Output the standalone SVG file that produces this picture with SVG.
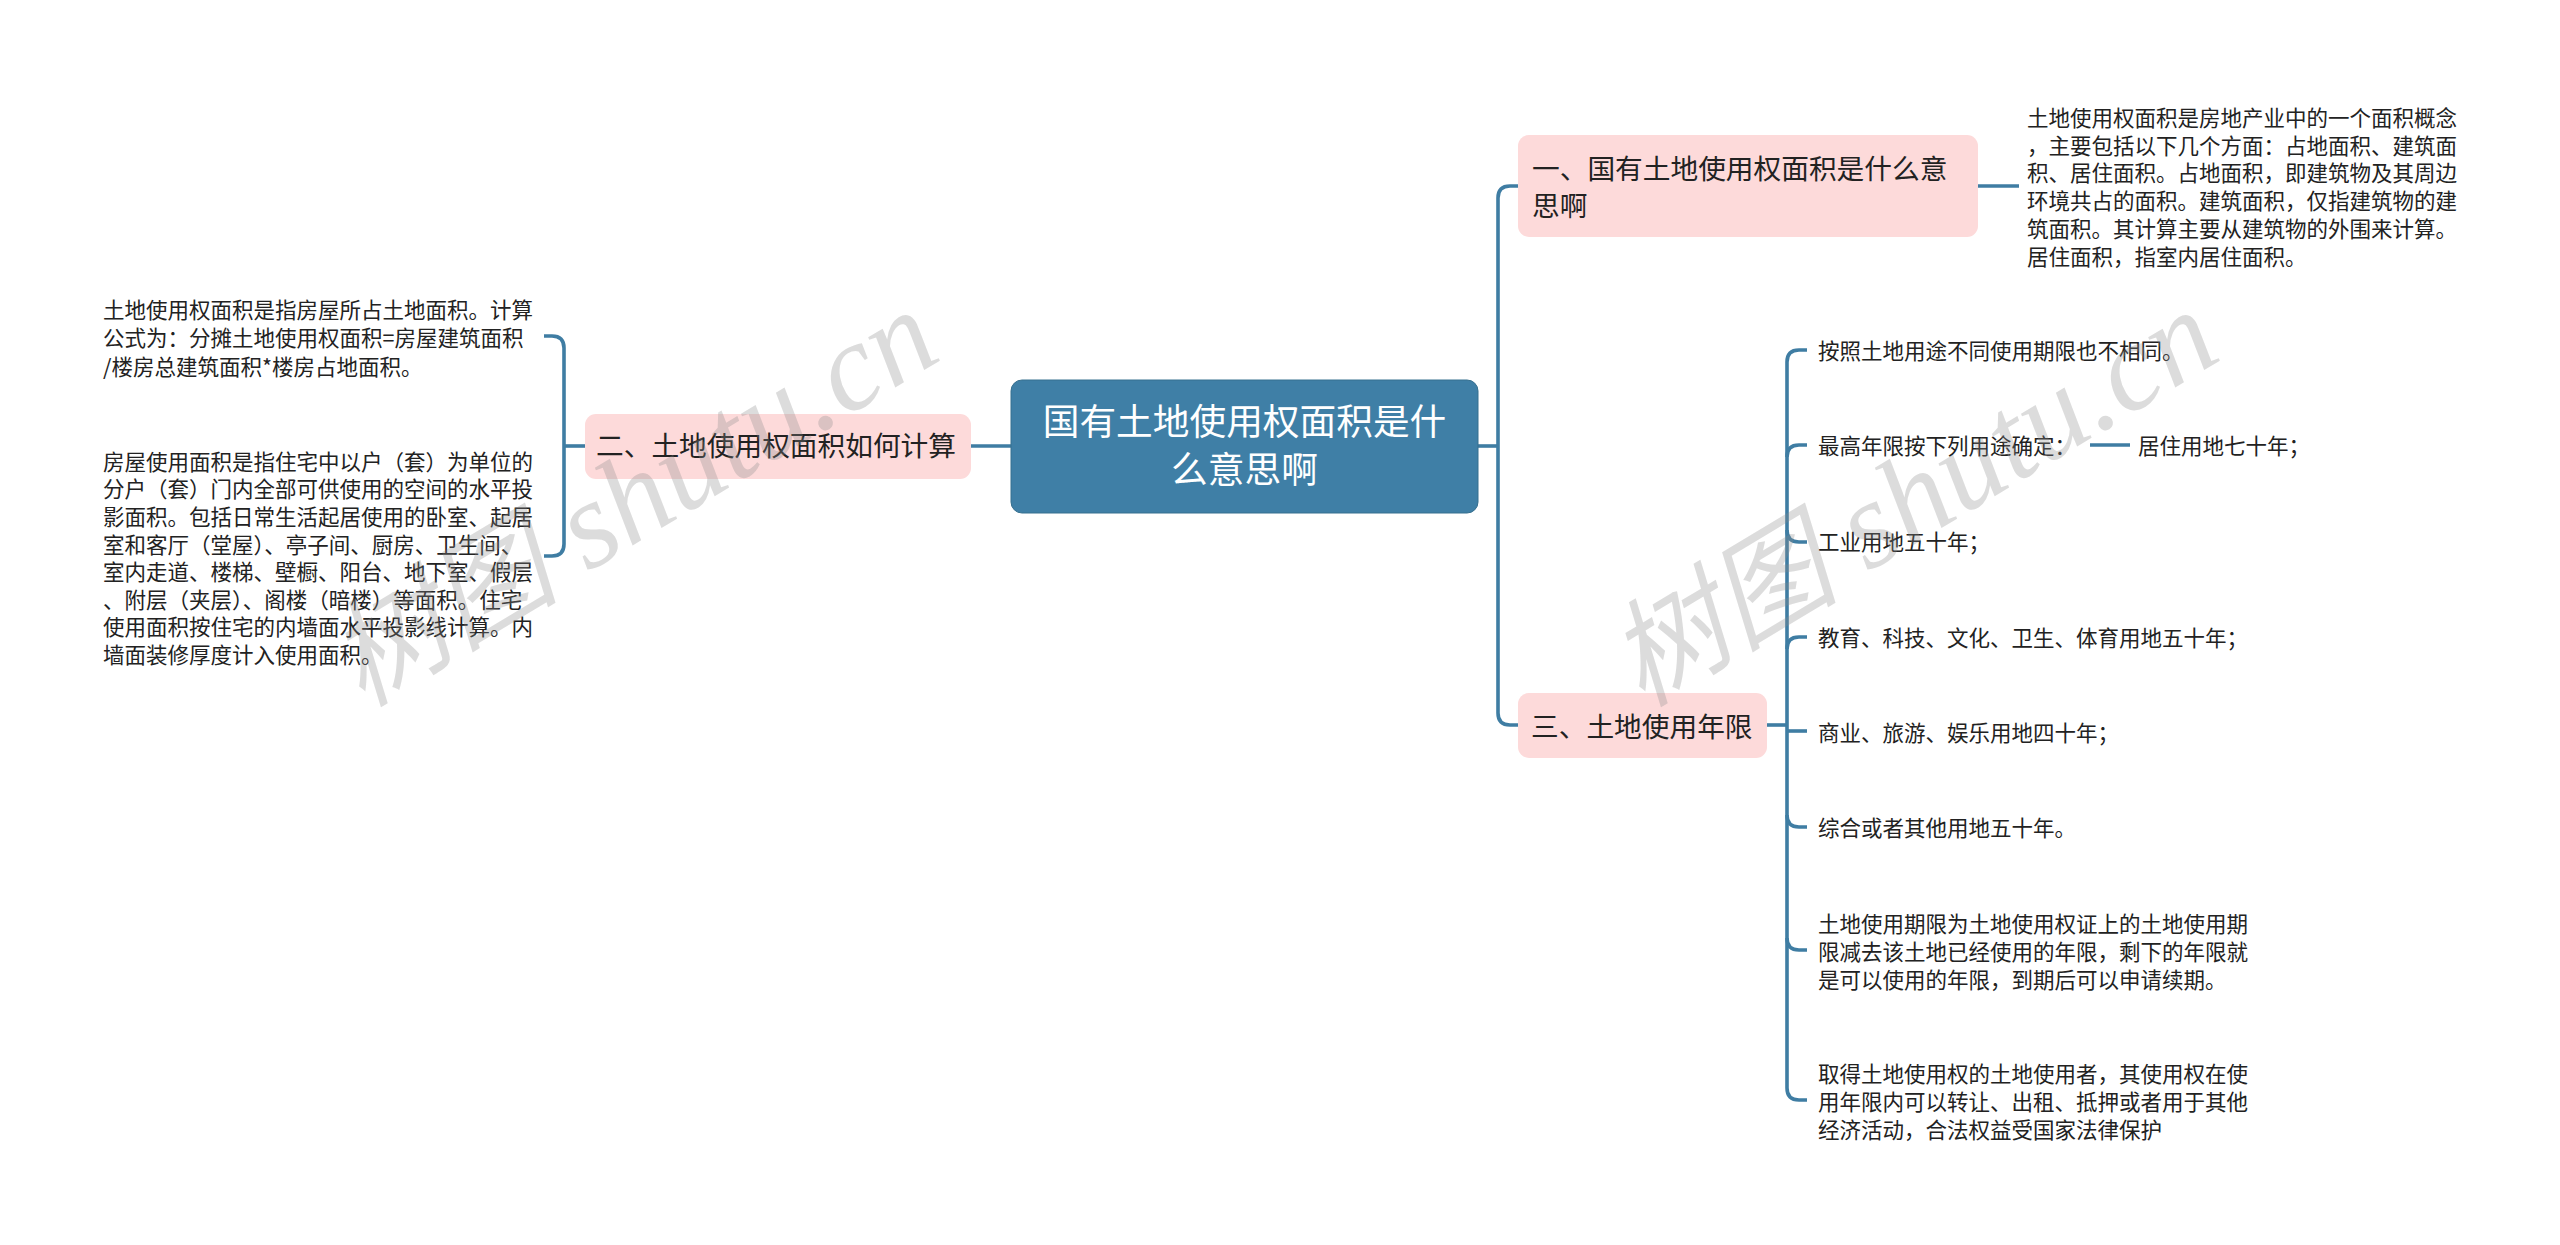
<svg xmlns="http://www.w3.org/2000/svg" width="2560" height="1245" viewBox="0 0 2560 1245">
<style>
text{font-family:"Noto Sans CJK SC","Noto Sans",sans-serif;fill:#222}
.leaf text{font-size:21.5px}
.pink rect{fill:#fddada}
.pink text{font-size:27.7px}
.root text{font-size:36.7px;fill:#fff;text-anchor:middle}
#connectors path{fill:none;stroke:#3f7da3;stroke-width:3.6}
.wm{font-family:"Liberation Serif",serif;font-style:italic;font-size:124px;fill:#8a8a8a;fill-opacity:.3}
.wm tspan.c{font-family:"Noto Sans CJK SC",sans-serif;font-size:116px}
</style>
<rect width="2560" height="1245" fill="#fff"/>
<g id="connectors">
<path d="M971 446H1011"/>
<path d="M585 446H564"/>
<path d="M544 336H552Q564 336 564 348V544Q564 556 552 556H544"/>
<path d="M1478 446H1498"/>
<path d="M1518 186H1510Q1498 186 1498 198V713Q1498 725 1510 725H1518"/>
<path d="M1978 186H2019"/>
<path d="M1767 725H1787"/>
<path d="M1807 350H1799Q1787 350 1787 362V1088Q1787 1100 1799 1100H1807"/>
<path d="M1807 445H1799Q1787 445 1787 457"/>
<path d="M1787 530Q1787 542 1799 542H1807"/>
<path d="M1807 637H1799Q1787 637 1787 649"/>
<path d="M1787 731H1807"/>
<path d="M1787 815Q1787 827 1799 827H1807"/>
<path d="M1787 938Q1787 950 1799 950H1807"/>
<path d="M2090 445H2130"/>
</g>
<g id="root" class="root">
<rect x="1011" y="380" width="467" height="133" rx="11" fill="#3f7fa6" stroke="#37708f" stroke-width="1"/>
<text x="1244.5" y="435">国有土地使用权面积是什</text>
<text x="1244.5" y="483">么意思啊</text>
</g>
<g id="n1" class="pink">
<rect x="1518" y="135" width="460" height="102" rx="11"/>
<text x="1532" y="179">一、国有土地使用权面积是什么意</text>
<text x="1532" y="216">思啊</text>
</g>
<g id="n2" class="pink">
<rect x="585" y="414" width="386" height="65" rx="11"/>
<text x="596" y="456">二、土地使用权面积如何计算</text>
</g>
<g id="n3" class="pink">
<rect x="1518" y="693" width="249" height="65" rx="11"/>
<text x="1531" y="737">三、土地使用年限</text>
</g>
<g id="l1" class="leaf">
<text x="2027" y="126">土地使用权面积是房地产业中的一个面积概念</text>
<text x="2027" y="154">，主要包括以下几个方面：占地面积、建筑面</text>
<text x="2027" y="181">积、居住面积。占地面积，即建筑物及其周边</text>
<text x="2027" y="209">环境共占的面积。建筑面积，仅指建筑物的建</text>
<text x="2027" y="237">筑面积。其计算主要从建筑物的外围来计算。</text>
<text x="2027" y="265">居住面积，指室内居住面积。</text>
</g>
<g id="l2" class="leaf">
<text x="103" y="318">土地使用权面积是指房屋所占土地面积。计算</text>
<text x="103" y="346">公式为：分摊土地使用权面积=房屋建筑面积</text>
<text x="103" y="375">/楼房总建筑面积*楼房占地面积。</text>
</g>
<g id="l3" class="leaf">
<text x="103" y="470">房屋使用面积是指住宅中以户（套）为单位的</text>
<text x="103" y="497">分户（套）门内全部可供使用的空间的水平投</text>
<text x="103" y="525">影面积。包括日常生活起居使用的卧室、起居</text>
<text x="103" y="553">室和客厅（堂屋）、亭子间、厨房、卫生间、</text>
<text x="103" y="580">室内走道、楼梯、壁橱、阳台、地下室、假层</text>
<text x="103" y="608">、附层（夹层）、阁楼（暗楼）等面积。住宅</text>
<text x="103" y="635">使用面积按住宅的内墙面水平投影线计算。内</text>
<text x="103" y="663">墙面装修厚度计入使用面积。</text>
</g>
<g id="l4" class="leaf"><text x="1818" y="359">按照土地用途不同使用期限也不相同。</text></g>
<g id="l5" class="leaf"><text x="1818" y="454">最高年限按下列用途确定：</text></g>
<g id="l6" class="leaf"><text x="2138" y="454">居住用地七十年；</text></g>
<g id="l7" class="leaf"><text x="1818" y="550">工业用地五十年；</text></g>
<g id="l8" class="leaf"><text x="1818" y="646">教育、科技、文化、卫生、体育用地五十年；</text></g>
<g id="l9" class="leaf"><text x="1818" y="741">商业、旅游、娱乐用地四十年；</text></g>
<g id="l10" class="leaf"><text x="1818" y="836">综合或者其他用地五十年。</text></g>
<g id="l11" class="leaf">
<text x="1818" y="932">土地使用期限为土地使用权证上的土地使用期</text>
<text x="1818" y="960">限减去该土地已经使用的年限，剩下的年限就</text>
<text x="1818" y="988">是可以使用的年限，到期后可以申请续期。</text>
</g>
<g id="l12" class="leaf">
<text x="1818" y="1082">取得土地使用权的土地使用者，其使用权在使</text>
<text x="1818" y="1110">用年限内可以转让、出租、抵押或者用于其他</text>
<text x="1818" y="1138">经济活动，合法权益受国家法律保护</text>
</g>
<text class="wm" transform="translate(362 708) rotate(-31)"><tspan class="c">树图</tspan> shutu.cn</text>
<text class="wm" transform="translate(1642 708) rotate(-31)"><tspan class="c">树图</tspan> shutu.cn</text>
</svg>
